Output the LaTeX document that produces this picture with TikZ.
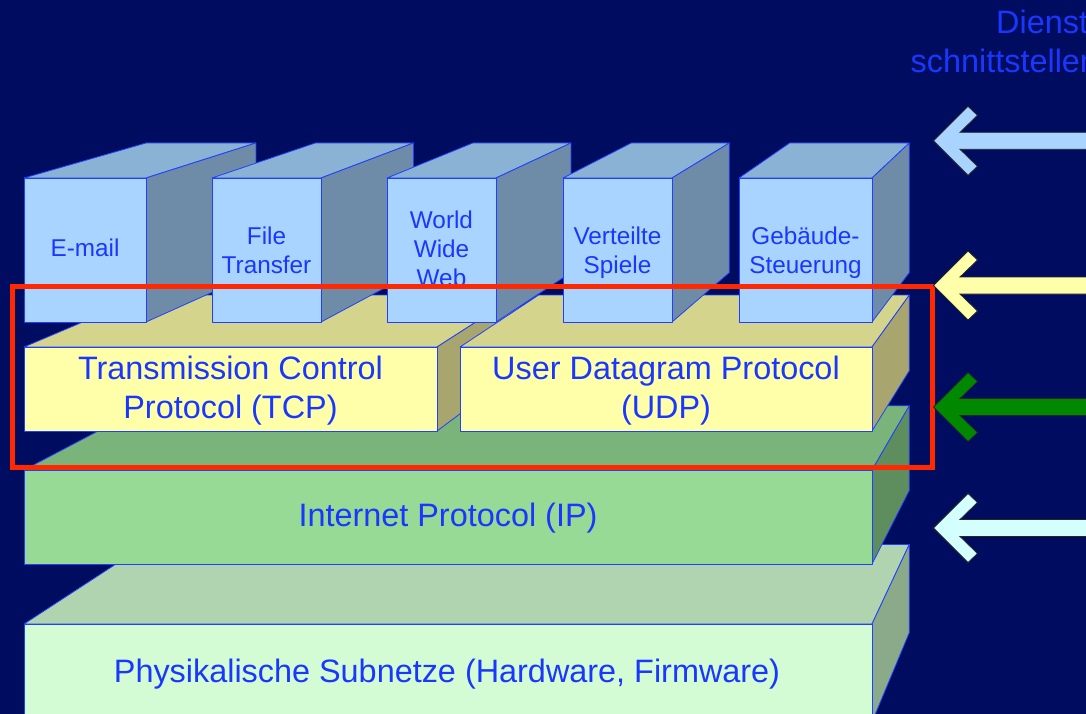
\documentclass[tikz,border=0pt]{standalone}
\usepackage{fontspec}
\setmainfont{Liberation Sans}
\usetikzlibrary{calc}
\definecolor{bg}{RGB}{0,12,96}
\definecolor{edgeblue}{RGB}{32,64,255}
\definecolor{txtblue}{RGB}{25,55,255}
\definecolor{appF}{RGB}{168,212,255}
\definecolor{appT}{RGB}{138,178,212}
\definecolor{appS}{RGB}{110,140,168}
\definecolor{yelF}{RGB}{255,255,170}
\definecolor{yelT}{RGB}{212,212,140}
\definecolor{yelS}{RGB}{168,166,110}
\definecolor{grnF}{RGB}{150,218,150}
\definecolor{grnT}{RGB}{122,180,122}
\definecolor{grnS}{RGB}{94,142,94}
\definecolor{phyF}{RGB}{212,252,212}
\definecolor{phyT}{RGB}{176,212,176}
\definecolor{phyS}{RGB}{138,170,138}
\definecolor{redframe}{RGB}{255,40,0}
\definecolor{arrBlue}{RGB}{168,212,255}
\definecolor{arrYel}{RGB}{255,255,170}
\definecolor{arrGrn}{RGB}{0,136,0}
\definecolor{arrCyan}{RGB}{212,255,255}
\newcommand\layerbox[7]{%
  \coordinate (p1) at (#1,#3);
  \coordinate (p2) at (#2,#3);
  \coordinate (p3) at (#2,#4);
  \coordinate (q1) at ($(p1)!0.1!(V)$);
  \coordinate (q2) at ($(p2)!0.1!(V)$);
  \coordinate (q3) at ($(p3)!0.1!(V)$);
  \filldraw[edge,fill=#6] (p1) -- (p2) -- (q2) -- (q1) -- cycle;
  \filldraw[edge,fill=#7] (p2) -- (p3) -- (q3) -- (q2) -- cycle;
  \filldraw[edge,fill=#5] (p1) rectangle (p3);
}
\newcommand\sidearrow[2]{%
  \filldraw[arrowshape,fill=#2] (933.5,#1) -- (968,#1-34.5) -- (977.5,#1-25.5)
    -- (960,#1-8.5) -- (1100,#1-8.5) -- (1100,#1+8.5) -- (960,#1+8.5)
    -- (977.5,#1+25.5) -- (968,#1+34.5) -- cycle;
}
\begin{document}
\begin{tikzpicture}[x=1pt,y=-1pt,
  edge/.style={draw=edgeblue,line width=0.8pt,line join=round},
  arrowshape/.style={draw=black!85,line width=0.8pt,line join=miter},
  small/.style={text=txtblue,align=center,inner sep=0pt,font=\fontsize{24.3}{29}\selectfont},
  big/.style={text=txtblue,align=center,inner sep=0pt,font=\fontsize{32.4}{39}\selectfont},
  frame/.style={draw=redframe,line width=5pt}]
\useasboundingbox (0,0) rectangle (1086,714);
\fill[bg] (0,0) rectangle (1086,714);
\begin{scope}
\clip (0,0) rectangle (1086,714);
\coordinate (V) at (1245,-172);
% layers
\layerbox{24}{872}{624}{722}{phyF}{phyT}{phyS}
\layerbox{24}{872}{470}{564}{grnF}{grnT}{grnS}
\layerbox{24}{437}{347}{431}{yelF}{yelT}{yelS}
\layerbox{460}{872}{347}{431}{yelF}{yelT}{yelS}
% application boxes
\layerbox{24}{146}{178}{322}{appF}{appT}{appS}
\layerbox{212}{321}{178}{322}{appF}{appT}{appS}
\layerbox{387}{496}{178}{322}{appF}{appT}{appS}
\layerbox{563}{672}{178}{322}{appF}{appT}{appS}
\layerbox{739}{872}{178}{322}{appF}{appT}{appS}
% labels
\node[small] (email) at (85,248) {E-mail};
\node[small] (ftp) at (266.5,250) {File\\Transfer};
\node[small] (www) at (441.5,248.5) {World\\Wide\\Web};
\node[small] (spiele) at (617.5,252.5) {Verteilte\\Spiele};
\node[small] (geb) at (805.5,252.5) {Gebäude-\\Steuerung};
\node[big] (tcp) at (230.5,390.5) {Transmission Control\\Protocol (TCP)};
\node[big] (udp) at (666,390.5) {User Datagram Protocol\\(UDP)};
\node[big] (ip) at (448,518) {Internet Protocol (IP)};
\node[big] (phy) at (447,674.5) {Physikalische Subnetze (Hardware, Firmware)};
% red frame
\draw[frame] (12.5,286.7) rectangle (932.5,467.5);
% arrows
\sidearrow{140.8}{arrBlue}
\sidearrow{285.5}{arrYel}
\sidearrow{407}{arrGrn}
\sidearrow{528}{arrCyan}
% heading
\node[big,anchor=base west] (dienst) at (996,34) {Dienst};
\node[big,anchor=base west] (schnitt) at (910.5,73) {schnittstellen};
\end{scope}
\end{tikzpicture}
\end{document}
